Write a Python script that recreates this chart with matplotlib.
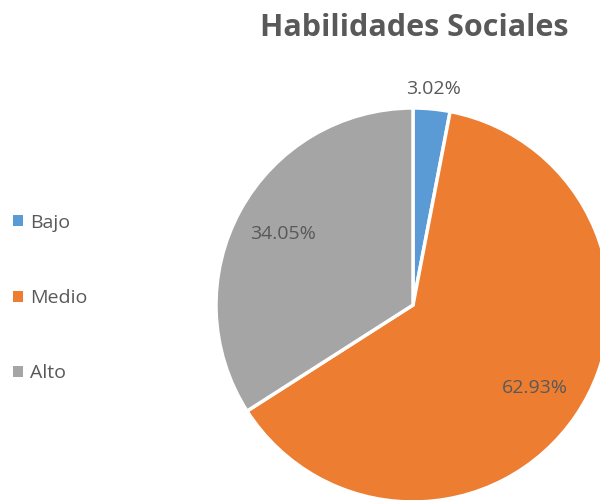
import matplotlib
matplotlib.use("Agg")
import matplotlib.pyplot as plt
from matplotlib.patches import Patch
import numpy as np

categories = ["Bajo", "Medio", "Alto"]
values = [3.02, 62.93, 34.05]
colors = ["#5B9BD5", "#ED7D31", "#A5A5A5"]
title = "Habilidades Sociales"
text_color = "#595959"

plt.rcParams['font.family'] = ['Open Sans', 'DejaVu Sans']

fig = plt.figure(figsize=(6, 5), dpi=100)
ax = fig.add_axes([0, 0, 1, 1])

wedges, texts, autotexts = ax.pie(
    values, colors=colors, startangle=90, counterclock=False,
    center=(413, 195), radius=197,
    autopct=lambda p: f"{p:.2f}%", pctdistance=0.75,
    wedgeprops=dict(edgecolor='white', linewidth=2.5),
    textprops=dict(color=text_color, fontsize=14),
    frame=True,
)
ax.set_xlim(0, 600)
ax.set_ylim(0, 500)
ax.set_aspect('equal')
ax.axis('off')

# small slice label outside
w = wedges[0]
ang = np.deg2rad((w.theta1 + w.theta2) / 2)
autotexts[0].set_position((413 + 1.1 * 197 * np.cos(ang), 195 + 1.1 * 197 * np.sin(ang)))

fig.text(0.69, 0.945, title, ha='center', va='center', fontsize=22,
         fontweight='bold', color=text_color)

handles = [Patch(facecolor=c, edgecolor='none') for c in colors]
leg = fig.legend(handles, categories, loc='center left', bbox_to_anchor=(0.022, 0.404),
                 frameon=False, fontsize=14, labelcolor=text_color,
                 handlelength=0.5, handleheight=0.5, handletextpad=0.35,
                 labelspacing=2.95, borderpad=0, borderaxespad=0)

fig.savefig("out.png", dpi=100)
